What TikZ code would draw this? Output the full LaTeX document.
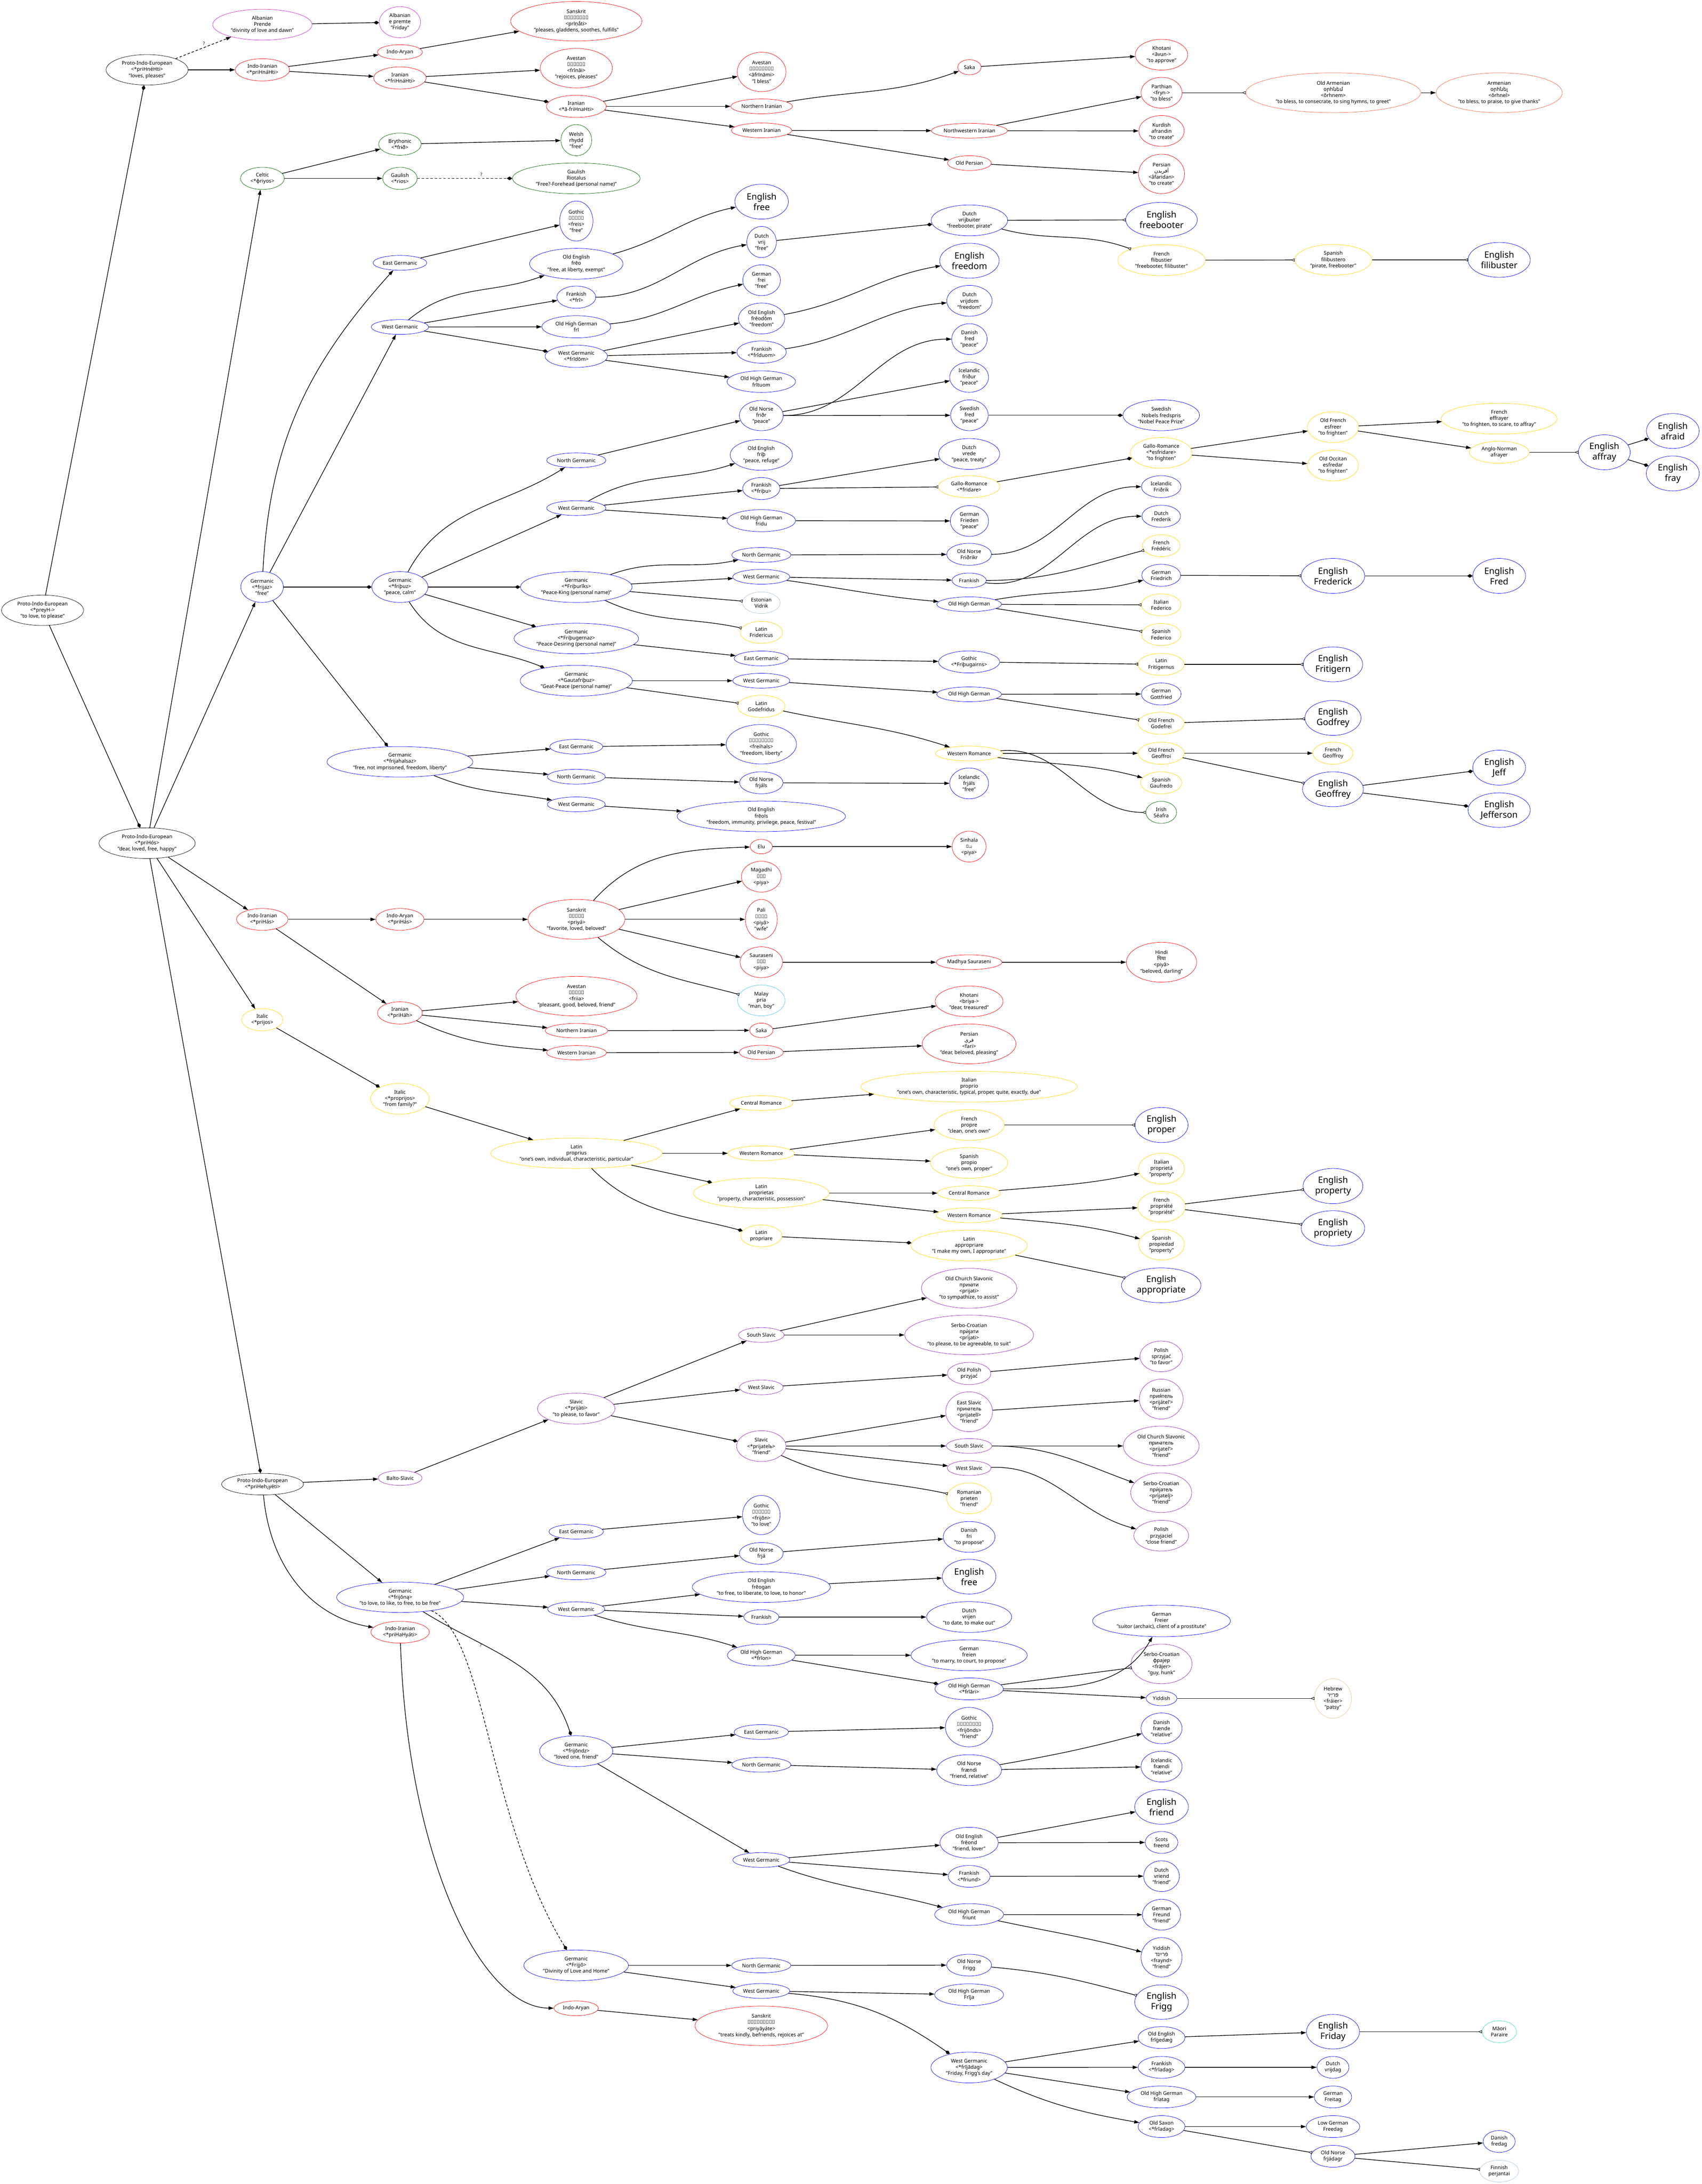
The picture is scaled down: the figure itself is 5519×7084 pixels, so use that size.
\documentclass[tikz,border=0pt]{standalone}
\usepackage{fontspec}
\setmainfont{Noto Sans}
\newfontfamily\armf{DejaVu Sans}
\newfontfamily\arabf[Script=Arabic]{DejaVu Sans}
\newfontfamily\hebf[Script=Hebrew]{Liberation Sans}
\newfontfamily\devf[Script=Devanagari]{Noto Sans}
\newfontfamily\sinf[Script=Sinhala]{Abhaya Libre}
\TeXXeTstate=1
\usetikzlibrary{shapes.geometric,arrows.meta}
\newcommand\smf{\fontsize{16.5}{20}\selectfont}
\newcommand\bgf{\fontsize{28.5}{34}\selectfont}
\newcommand\qf{\fontsize{15}{18}\selectfont}
\definecolor{cred}{RGB}{255,0,0}
\definecolor{cblue}{RGB}{0,0,255}
\definecolor{cgreen}{RGB}{0,100,0}
\definecolor{cgold}{RGB}{255,215,0}
\definecolor{calb}{RGB}{210,40,210}
\definecolor{cslav}{RGB}{150,40,200}
\definecolor{carm}{RGB}{255,99,71}
\definecolor{clsb}{RGB}{176,196,222}
\definecolor{cmalay}{RGB}{80,200,230}
\definecolor{cmaori}{RGB}{64,224,180}
\definecolor{ctan}{RGB}{230,200,150}
\begin{document}
\begin{tikzpicture}[x=1pt,y=-1pt,
  nd/.style={ellipse, draw=#1, line width=1.1pt, inner sep=0pt, align=center, font=\smf, text=black},
  nd/.default=cblue,
  sz/.style 2 args={minimum width=2*#1, minimum height=2*#2},
  bigt/.style={font=\bgf},
  qlab/.style={font=\qf, inner sep=0pt},
  inh/.style={-{Triangle[length=17pt,width=11pt]}, line width=2pt},
  der/.style={-{Diamond[length=18pt,width=12pt]}, line width=2pt},
  bor/.style={-{Triangle[open,reversed,length=12pt,width=10pt,line width=1.3pt]}, line width=2pt},
  dinh/.style={inh, dash pattern=on 8pt off 6pt},
  dder/.style={der, dash pattern=on 8pt off 6pt},
]
\fill[white] (0,0) rectangle (5519,7084);
\useasboundingbox (0,0) rectangle (5519,7084);

% ---------------- top: *priHnéHti ----------------
\node[nd=black,sz={133}{49.4}] (pie1) at (477,226.5) {Proto-Indo-European\\<*priHnéHti>\\"loves, pleases"};
\node[nd=calb,sz={161}{50}] (alb1) at (851,80) {Albanian\\Prende\\"divinity of love and dawn"};
\node[nd=calb,sz={67}{50.5}] (alb2) at (1297,72) {Albanian\\e premte\\"Friday"};
\node[nd=cred,sz={88}{36}] (iir1) at (851,226.5) {Indo-Iranian\\<*priHnáHti>};
\node[nd=cred,sz={73}{24}] (ia1) at (1297,169) {Indo-Aryan};
\node[nd=cred,sz={85}{36}] (ir1) at (1297,253) {Iranian\\<*friHnáHti>};
\node[nd=cred,sz={213}{64}] (skt1) at (1869,69) {Sanskrit\\𑀧𑁆𑀭𑀻𑀡𑀸𑀢𑀺\\<prīṇā́ti>\\"pleases, gladdens, soothes, fulfills"};
\node[nd=cred,sz={117}{64}] (ave1) at (1869,221) {Avestan\\𐬟𐬭𐬍𐬥𐬁𐬌\\<frīnāi>\\"rejoices, pleases"};
\node[nd=cred,sz={97}{36}] (ir2) at (1869,345) {Iranian\\<*ā-friHnaHti>};
\node[nd=cgreen,sz={69}{36}] (bry) at (1297,467.6) {Brythonic\\<*frɨð>};
\node[nd=cgreen,sz={50}{50.5}] (wel) at (1869,454.6) {Welsh\\rhydd\\"free"};
\node[nd=cgreen,sz={71}{36}] (cel) at (851,578.6) {Celtic\\<*ɸriyos>};
\node[nd=cgreen,sz={56}{36}] (gau1) at (1297,578.6) {Gaulish\\<*rios>};
\node[nd=cgreen,sz={207}{50}] (gau2) at (1869,578.6) {Gaulish\\Riotalus\\"Free?-Forehead (personal name)"};
\node[nd,sz={54}{65}] (got1) at (1869,717) {Gothic\\𐍆𐍂𐌴𐌹𐍃\\<freis>\\"free"};
\node[nd,sz={87}{24}] (eg1) at (1297,852.6) {East Germanic};
\node[nd,sz={151.5}{50}] (oe1) at (1869,855.6) {Old English\\frēo\\"free, at liberty, exempt"};
\node[nd,sz={63}{36}] (fk1) at (1869,964) {Frankish\\<*frī>};
\node[nd,sz={93}{24}] (wg1) at (1297,1060.7) {West Germanic};
\node[nd,sz={111.5}{36}] (ohg1) at (1869,1060) {Old High German\\frī};
\node[nd,sz={101}{36}] (wg1b) at (1869,1155.6) {West Germanic\\<*frīdōm>};

\node[nd=cred,sz={79}{64}] (ave2) at (2470,233.4) {Avestan\\𐬁𐬟𐬭𐬍𐬥𐬁𐬨𐬌\\<āfrīnāmi>\\"I bless"};
\node[nd=cred,sz={100}{24}] (nir1) at (2470,345) {Northern Iranian};
\node[nd=cred,sz={98}{24}] (wir1) at (2470,423) {Western Iranian};
\node[nd=cred,sz={38}{24.5}] (saka1) at (3144,218) {Saka};
\node[nd=cred,sz={123}{24}] (nwir) at (3144,424) {Northwestern Iranian};
\node[nd=cred,sz={71}{24}] (op1) at (3144,529) {Old Persian};
\node[nd=cred,sz={85}{50}] (kho1) at (3767,177.5) {Khotani\\<āvun->\\"to approve"};
\node[nd=cred,sz={66.6}{50}] (par) at (3767,300.8) {Parthian\\<fryn->\\"to bless"};
\node[nd=cred,sz={73.5}{50}] (kur) at (3767,424.7) {Kurdish\\afrandin\\"to create"};
\node[nd=cred,sz={74.6}{64}] (per1) at (3767,564) {Persian\\{\arabf\beginR آفریدن\endR}\\<âfaridan>\\"to create"};
\node[nd=carm,sz={283.6}{64.7}] (oarm) at (4324,300.8) {Old Armenian\\{\armf օրհնեմ}\\<ōrhnem>\\"to bless, to consecrate, to sing hymns, to greet"};
\node[nd=carm,sz={204.7}{64.7}] (arm) at (4862,300.8) {Armenian\\{\armf օրհնել}\\<ōrhnel>\\"to bless, to praise, to give thanks"};

\node[nd,bigt,sz={86.7}{56.6}] (enfree1) at (2470,654) {English\\free};
\node[nd,sz={48}{50.5}] (duvrij) at (2470,785) {Dutch\\vrij\\"free"};
\node[nd,sz={61}{50}] (defrei) at (2470,909) {German\\frei\\"free"};
\node[nd,sz={75}{50}] (oefd) at (2470,1033) {Old English\\frēodōm\\"freedom"};
\node[nd,sz={80}{36}] (fkfd) at (2470,1142) {Frankish\\<*frīduom>};
\node[nd,sz={111}{35}] (ohgft) at (2469,1237.8) {Old High German\\frītuom};
\node[nd,sz={124}{50}] (duvb) at (3144,714.8) {Dutch\\vrijbuiter\\"freebooter, pirate"};
\node[nd,bigt,sz={96.4}{56.6}] (enfreedom) at (3144,845.6) {English\\freedom};
\node[nd,sz={73.5}{50}] (duvd) at (3144,975.7) {Dutch\\vrijdom\\"freedom"};
\node[nd,sz={57.4}{50}] (dafred) at (3144,1100) {Danish\\fred\\"peace"};
\node[nd,bigt,sz={116}{56.6}] (enfb) at (3767,713) {English\\freebooter};
\node[nd=cgold,sz={142}{50}] (frfl) at (3767,844) {French\\flibustier\\"freebooter, filibuster"};
\node[nd=cgold,sz={125}{50}] (esfl) at (4324,843) {Spanish\\filibustero\\"pirate, freebooter"};
\node[nd,bigt,sz={101}{56.6}] (enfl) at (4862,843) {English\\filibuster};

% ---------------- Germanic *frijaz ----------------
\node[nd,sz={71}{49}] (onfr) at (2469,1348) {Old Norse\\friðr\\"peace"};
\node[nd,sz={96}{24}] (ng1) at (1869,1493) {North Germanic};
\node[nd,sz={101}{50}] (oefr) at (2469,1475.5) {Old English\\friþ\\"peace, refuge"};
\node[nd,sz={60.5}{35.7}] (fkfr) at (2469,1584.7) {Frankish\\<*friþu>};
\node[nd,sz={96}{24}] (wg2) at (1869,1648) {West Germanic};
\node[nd,sz={111}{35.7}] (ohgfr) at (2469,1688.8) {Old High German\\fridu};
\node[nd,sz={69}{50}] (gfrijaz) at (850,1904) {Germanic\\<*frijaz>\\"free"};
\node[nd,sz={91}{50}] (gfrithuz) at (1297,1904) {Germanic\\<*friþuz>\\"peace, calm"};
\node[nd,sz={181}{50}] (gfrk) at (1869,1904) {Germanic\\<*Friþurīks>\\"Peace-King (personal name)"};
\node[nd,sz={96}{24}] (ng2) at (2469,1800) {North Germanic};
\node[nd,sz={92.6}{24}] (wg3) at (2469,1871) {West Germanic};
\node[nd=clsb,sz={61}{35}] (est) at (2469,1955) {Estonian\\Vidrik};
\node[nd=cgold,sz={69}{35.7}] (latfrid) at (2469,2051) {Latin\\Fridericus};
\node[nd,sz={202}{49.5}] (gfrg) at (1869,2071) {Germanic\\<*Friþugernaz>\\"Peace-Desiring (personal name)"};
\node[nd,sz={88}{24}] (eg2) at (2469,2135.7) {East Germanic};
\node[nd,sz={182}{50}] (ggaut) at (1869,2208) {Germanic\\<*Gautafriþuz>\\"Geat-Peace (personal name)"};
\node[nd,sz={92.6}{24}] (wg4) at (2469,2208) {West Germanic};
\node[nd=cgold,sz={77}{36}] (latgod) at (2469,2291) {Latin\\Godefridus};
\node[nd,sz={236.5}{49.5}] (gfh) at (1297,2471) {Germanic\\<*frijahalsaz>\\"free, not imprisoned, freedom, liberty"};
\node[nd,sz={86}{24}] (eg3) at (1869,2422) {East Germanic};
\node[nd,sz={114}{64}] (gotfh) at (2469,2414) {Gothic\\𐍆𐍂𐌴𐌹𐌷𐌰𐌻𐍃\\<freihals>\\"freedom, liberty"};
\node[nd,sz={94}{24}] (ng3) at (1869,2519.4) {North Germanic};
\node[nd,sz={70.4}{35.7}] (onfj) at (2469,2539) {Old Norse\\frjáls};
\node[nd,sz={94}{24}] (wg5) at (1869,2609) {West Germanic};
\node[nd,sz={273}{49.5}] (oefl) at (2469,2648) {Old English\\frēols\\"freedom, immunity, privilege, peace, festival"};

\node[nd,sz={63}{49}] (isfr) at (3143,1223.5) {Icelandic\\friður\\"peace"};
\node[nd,sz={61}{50}] (svfr) at (3144,1347) {Swedish\\fred\\"peace"};
\node[nd,sz={99}{50}] (duvr) at (3143,1472.5) {Dutch\\vrede\\"peace, treaty"};
\node[nd=cgold,sz={100}{35.7}] (gr1) at (3143,1578.6) {Gallo-Romance\\<*fridare>};
\node[nd,sz={62}{50}] (defr) at (3144,1689.8) {German\\Frieden\\"peace"};
\node[nd,sz={72.5}{35.7}] (onfrk) at (3143,1798) {Old Norse\\Friðrikr};
\node[nd,sz={55.5}{24}] (fk3) at (3143,1882.7) {Frankish};
\node[nd,sz={105}{24}] (ohg3) at (3143,1960) {Old High German};
\node[nd,sz={99}{35.7}] (gotfg) at (3143,2147) {Gothic\\<*Friþugairns>};
\node[nd,sz={105}{24}] (ohg4) at (3143,2252) {Old High German};
\node[nd=cgold,sz={109}{24}] (wr3) at (3143,2444) {Western Romance};
\node[nd,sz={63}{50}] (isfj) at (3143,2541) {Icelandic\\frjáls\\"free"};

\node[nd,sz={124}{50}] (svnob) at (3766,1347) {Swedish\\Nobels fredspris\\"Nobel Peace Prize"};
\node[nd=cgold,sz={100}{50}] (gr2) at (3766,1469) {Gallo-Romance\\<*esfridare>\\"to frighten"};
\node[nd,sz={64}{35.7}] (isfrk) at (3766,1578.6) {Icelandic\\Friðrik};
\node[nd,sz={62.5}{35.7}] (dufrk) at (3766,1674.5) {Dutch\\Frederik};
\node[nd=cgold,sz={61}{35.7}] (frfrd) at (3766,1770) {French\\Frédéric};
\node[nd,sz={63}{35.7}] (defrd) at (3766,1866) {German\\Friedrich};
\node[nd=cgold,sz={64}{35.7}] (itfed) at (3766,1962) {Italian\\Federico};
\node[nd=cgold,sz={64}{35.7}] (esfed) at (3766,2058) {Spanish\\Federico};
\node[nd=cgold,sz={75}{35.7}] (latfrit) at (3766,2155) {Latin\\Fritigernus};
\node[nd,sz={64.5}{35.7}] (degott) at (3766,2251) {German\\Gottfried};
\node[nd=cgold,sz={75}{35.7}] (ofgod) at (3766,2346) {Old French\\Godefrei};
\node[nd=cgold,sz={75}{35.7}] (ofgeo) at (3766,2443) {Old French\\Geoffroi};
\node[nd=cgold,sz={67}{35.7}] (esgau) at (3766,2539) {Spanish\\Gaufredo};
\node[nd=cgreen,sz={50}{35.7}] (irsea) at (3766,2635) {Irish\\Séafra};

\node[nd=cgold,sz={83}{50}] (ofesf) at (4323,1385.7) {Old French\\esfreer\\"to frighten"};
\node[nd=cgold,sz={83}{50}] (ococ) at (4323,1510) {Old Occitan\\esfredar\\"to frighten"};
\node[nd,bigt,sz={103}{56.6}] (enfrk) at (4323,1868) {English\\Frederick};
\node[nd,bigt,sz={96.4}{56.6}] (enfrit) at (4323,2155) {English\\Fritigern};
\node[nd,bigt,sz={91}{56.6}] (engod) at (4323,2328.6) {English\\Godfrey};
\node[nd=cgold,sz={65}{35.7}] (frgeo) at (4323,2443) {French\\Geoffroy};
\node[nd,bigt,sz={98.7}{56.6}] (engeo) at (4323,2560) {English\\Geoffrey};

\node[nd=cgold,sz={188}{50}] (freff) at (4862,1358) {French\\effrayer\\"to frighten, to scare, to affray"};
\node[nd=cgold,sz={97}{35.7}] (anaf) at (4862,1467) {Anglo-Norman\\afrayer};
\node[nd,bigt,sz={85.6}{56.6}] (enfred) at (4862,1868) {English\\Fred};
\node[nd,bigt,sz={85.6}{56.6}] (enjeff) at (4862,2490) {English\\Jeff};
\node[nd,bigt,sz={101}{56}] (enjeffer) at (4862,2627.6) {English\\Jefferson};
\node[nd,bigt,sz={84}{56.6}] (enaffray) at (5203,1467) {English\\affray};
\node[nd,bigt,sz={85.6}{56.6}] (enafraid) at (5425,1398) {English\\afraid};
\node[nd,bigt,sz={86}{56.6}] (enfray) at (5425,1535.7) {English\\fray};

% ---------------- PIE roots ----------------
\node[nd=black,sz={133}{49.4}] (pie2) at (138,1979.5) {Proto-Indo-European\\<*preyH->\\"to love, to please"};
\node[nd=black,sz={156}{49.7}] (pie3) at (477,2735) {Proto-Indo-European\\<*priHós>\\"dear, loved, free, happy"};

% ---------------- Indo-Iranian *priHás ----------------
\node[nd=cred,sz={83.5}{35.4}] (iir2) at (850.5,2982) {Indo-Iranian\\<*priHás>};
\node[nd=cred,sz={78}{35.4}] (ia2) at (1297,2982) {Indo-Aryan\\<*priHás>};
\node[nd=cred,sz={157}{64.6}] (skt2) at (1869.6,2982) {Sanskrit\\𑀧𑁆𑀭𑀺𑀬\\<priyá>\\"favorite, loved, beloved"};
\node[nd=cred,sz={36}{23.4}] (elu) at (2469,2746) {Elu};
\node[nd=cred,sz={64.4}{50}] (mag) at (2469,2843.5) {Magadhi\\𑀧𑀺𑀬\\<piya>};
\node[nd=cred,sz={51.7}{64.6}] (pali) at (2469,2982) {Pali\\𑀧𑀺𑀬𑀸\\<piyā>\\"wife"};
\node[nd=cred,sz={69}{50}] (saur) at (2469,3121) {Sauraseni\\𑀧𑀺𑀬\\<piya>};
\node[nd=cmalay,sz={77}{50}] (malay) at (2469,3245) {Malay\\pria\\"man, boy"};
\node[nd=cred,sz={55}{50}] (sinh) at (3143,2746) {Sinhala\\{\sinf පිය}\\<piya>};
\node[nd=cred,sz={106.5}{24}] (msaur) at (3143,3121) {Madhya Sauraseni};
\node[nd=cred,sz={114}{64.6}] (hindi) at (3767,3121) {Hindi\\{\devf पिया}\\<piyā>\\"beloved, darling"};
\node[nd=cgold,sz={67}{36}] (ital1) at (850.5,3307.5) {Italic\\<*prijos>};
\node[nd=cred,sz={72.7}{36}] (ir3) at (1297,3285.5) {Iranian\\<*priHáh>};
\node[nd=cred,sz={196.4}{64}] (ave3) at (1869.6,3231) {Avestan\\𐬟𐬭𐬌𐬌𐬀\\<friia>\\"pleasant, good, beloved, friend"};
\node[nd=cred,sz={101.4}{23.4}] (nir2) at (1869.6,3343) {Northern Iranian};
\node[nd=cred,sz={97}{23.4}] (wir2) at (1869.6,3414.6) {Western Iranian};
\node[nd=cred,sz={37.6}{23.4}] (saka2) at (2469,3342) {Saka};
\node[nd=cred,sz={71.4}{23.4}] (op2) at (2469,3413.6) {Old Persian};
\node[nd=cred,sz={110}{50}] (kho2) at (3143,3248) {Khotani\\<briya->\\"dear, treasured"};
\node[nd=cred,sz={152}{64.6}] (per2) at (3143,3386) {Persian\\{\arabf\beginR فری\endR}\\<fari>\\"dear, beloved, pleasing"};

% ---------------- Italic ----------------
\node[nd=cgold,sz={95}{50}] (ital2) at (1297,3564) {Italic\\<*proprijos>\\"from family?"};
\node[nd=cgold,sz={278}{49.3}] (latprop) at (1869.6,3740.8) {Latin\\proprius\\"one's own, individual, characteristic, particular"};
\node[nd=cgold,sz={102.7}{24}] (cr1) at (2469,3578) {Central Romance};
\node[nd=cgold,sz={107.8}{24}] (wr1) at (2469,3740.8) {Western Romance};
\node[nd=cgold,sz={220}{49.3}] (latpriet) at (2469,3870) {Latin\\proprietas\\"property, characteristic, possession"};
\node[nd=cgold,sz={67}{35.4}] (latpriare) at (2469,4008.6) {Latin\\propriare};
\node[nd=cgold,sz={351}{50}] (itprop) at (3143,3524.6) {Italian\\proprio\\"one's own, characteristic, typical, proper, quite, exactly, due"};
\node[nd=cgold,sz={114}{50}] (frprop) at (3143,3649) {French\\propre\\"clean, one's own"};
\node[nd=cgold,sz={125}{50}] (esprop) at (3143,3772) {Spanish\\propio\\"one's own, proper"};
\node[nd=cgold,sz={102}{24}] (cr2) at (3143,3870) {Central Romance};
\node[nd=cgold,sz={108}{24}] (wr2) at (3143,3941.7) {Western Romance};
\node[nd=cgold,sz={189}{50}] (latapp) at (3143,4040) {Latin\\appropriare\\"I make my own, I appropriate"};
\node[nd,bigt,sz={86}{57}] (enproper) at (3767,3649) {English\\proper};
\node[nd=cgold,sz={74}{50}] (itpriet) at (3767,3790.6) {Italian\\proprietà\\"property"};
\node[nd=cgold,sz={77}{50}] (frpriet) at (3767,3914) {French\\propriété\\"propriété"};
\node[nd=cgold,sz={74}{50}] (espriet) at (3767,4037) {Spanish\\propiedad\\"property"};
\node[nd,bigt,sz={97}{57}] (enproperty) at (4323,3847) {English\\property};
\node[nd,bigt,sz={103}{57}] (enpropriety) at (4323,3984) {English\\propriety};
\node[nd,bigt,sz={129}{56.4}] (enapprop) at (3766,4169) {English\\appropriate};

% ---------------- Slavic ----------------
\node[nd=black,sz={132.6}{35}] (pie4) at (851.5,4814) {Proto-Indo-European\\<*priHeh₂yéti>};
\node[nd=cslav,sz={71}{24}] (bsl) at (1297.7,4794) {Balto-Slavic};
\node[nd=cslav,sz={125.6}{50}] (sl1) at (1868.7,4569) {Slavic\\<*prijàti>\\"to please, to favor"};
\node[nd=cslav,sz={74}{24}] (ss1) at (2469,4330) {South Slavic};
\node[nd=cslav,sz={71}{24}] (ws1) at (2469,4500) {West Slavic};
\node[nd=cslav,sz={80}{50}] (sl2) at (2469,4690.5) {Slavic\\<*prijatelь>\\"friend"};
\node[nd=cslav,sz={154.7}{64.7}] (ocs1) at (3143,4178.6) {Old Church Slavonic\\приꙗти\\<prijati>\\"to sympathize, to assist"};
\node[nd=cslav,sz={209}{64.3}] (sc1) at (3143,4330) {Serbo-Croatian\\прѝјати\\<prìjati>\\"to please, to be agreeable, to suit"};
\node[nd=cslav,sz={70.4}{36}] (opl) at (3143,4455) {Old Polish\\przyjać};
\node[nd=cslav,sz={76}{64.7}] (esl) at (3143,4579) {East Slavic\\приꙗтель\\<prijatelĭ>\\"friend"};
\node[nd=cslav,sz={74}{24}] (ss2) at (3143,4690) {South Slavic};
\node[nd=cslav,sz={71}{24}] (ws2) at (3143,4762) {West Slavic};
\node[nd=cgold,sz={72.6}{50}] (rom) at (3143,4860) {Romanian\\prieten\\"friend"};
\node[nd=cslav,sz={69}{50}] (plspr) at (3766,4399.6) {Polish\\sprzyjać\\"to favor"};
\node[nd=cslav,sz={71}{64.7}] (ru) at (3766,4538) {Russian\\прия́тель\\<prijátelʹ>\\"friend"};
\node[nd=cslav,sz={123}{64.3}] (ocs2) at (3766,4690) {Old Church Slavonic\\приꙗтель\\<prijatelʹ>\\"friend"};
\node[nd=cslav,sz={99}{64.3}] (sc2) at (3766,4841.6) {Serbo-Croatian\\прѝјатељ\\<prìjatelj>\\"friend"};
\node[nd=cslav,sz={88.7}{50}] (plprz) at (3766,4981) {Polish\\przyjaciel\\"close friend"};

% ---------------- Germanic *frijona ----------------
\node[nd,sz={206}{49.3}] (gfrijona) at (1297.7,5181) {Germanic\\<*frijōną>\\"to love, to like, to free, to be free"};
\node[nd=cred,sz={94.7}{35.4}] (iir3) at (1297.7,5294) {Indo-Iranian\\<*priHaHyáti>};
\node[nd,sz={88.4}{24}] (eg4) at (1868.7,4968) {East Germanic};
\node[nd,sz={96.8}{24}] (ng4) at (1868.7,5100) {North Germanic};
\node[nd,sz={92.6}{24}] (wg4b) at (1868.7,5219.5) {West Germanic};
\node[nd,sz={61}{63.6}] (gotfjn) at (2469,4914) {Gothic\\𐍆𐍂𐌹𐌾𐍉𐌽\\<frijōn>\\"to love"};
\node[nd,sz={71}{35.4}] (onfja) at (2469,5038.7) {Old Norse\\frjá};
\node[nd,sz={223.8}{50}] (oefg) at (2469,5147.7) {Old English\\frēogan\\"to free, to liberate, to love, to honor"};
\node[nd,sz={57}{24}] (fk4) at (2469,5245) {Frankish};
\node[nd,sz={110}{35}] (ohgfrion) at (2469,5368.7) {Old High German\\<*frīon>};
\node[nd,sz={84}{50}] (dafri) at (3143,4985) {Danish\\fri\\"to propose"};
\node[nd,bigt,sz={87}{56.4}] (enfree2) at (3143,5114) {English\\free};
\node[nd,sz={138}{50}] (duvrijen) at (3143,5245) {Dutch\\vrijen\\"to date, to make out"};
\node[nd,sz={188.5}{50}] (defreien) at (3143,5369) {German\\freien\\"to marry, to court, to propose"};
\node[nd,sz={110.7}{35.6}] (ohgfriari) at (3143,5478) {Old High German\\<*frīāri>};
\node[nd,sz={223.7}{51}] (defreier) at (3767,5257.7) {German\\Freier\\"suitor (archaic), client of a prostitute"};
\node[nd=cslav,sz={99}{64.3}] (scfr) at (3767,5397) {Serbo-Croatian\\фрајер\\<frājer>\\"guy, hunk"};
\node[nd,sz={50}{23.6}] (yi1) at (3767,5509) {Yiddish};
\node[nd=ctan,sz={60}{64}] (heb) at (4323,5509) {Hebrew\\{\hebf\beginR פְרַײֵר\endR}\\<fráier>\\"patsy"};

% ---------------- Germanic *frijondz ----------------
\node[nd,sz={118.6}{50}] (gfrijondz) at (1868.6,5680) {Germanic\\<*frijōndz>\\"loved one, friend"};
\node[nd,sz={88}{24}] (eg5) at (2469,5618) {East Germanic};
\node[nd,sz={77}{64}] (gotfjnds) at (3143,5602) {Gothic\\𐍆𐍂𐌹𐌾𐍉𐌽𐌳𐍃\\<frijōnds>\\"friend"};
\node[nd,sz={96}{24}] (ng5) at (2469,5724) {North Germanic};
\node[nd,sz={105}{50}] (onfrn) at (3143,5741.4) {Old Norse\\frændi\\"friend, relative"};
\node[nd,sz={92.5}{24}] (wg6) at (2469,6033) {West Germanic};
\node[nd,sz={94.4}{50}] (oefrd) at (3143,5977) {Old English\\frēond\\"friend, lover"};
\node[nd,sz={68}{35.4}] (fkfrd) at (3143,6086) {Frankish\\<*friund>};
\node[nd,sz={111.6}{35.4}] (ohgfrd) at (3143,6210) {Old High German\\friunt};
\node[nd,sz={66.6}{50}] (dafrn) at (3767,5606) {Danish\\frænde\\"relative"};
\node[nd,sz={66.6}{50}] (isfrn) at (3767,5730) {Icelandic\\frændi\\"relative"};
\node[nd,bigt,sz={87}{56}] (enfriend) at (3767,5861) {English\\friend};
\node[nd,sz={53}{35.5}] (scots) at (3767,5976) {Scots\\freend};
\node[nd,sz={58}{50}] (duvriend) at (3767,6085.5) {Dutch\\vriend\\"friend"};
\node[nd,sz={61.8}{50}] (defreund) at (3767,6210.5) {German\\Freund\\"friend"};
\node[nd,sz={66.6}{64}] (yifr) at (3767,6348.6) {Yiddish\\{\hebf\beginR פֿרײַנד\endR}\\<fraynd>\\"friend"};

% ---------------- Germanic *Frijjo ----------------
\node[nd,sz={169.6}{50}] (gfrijjo) at (1868.6,6375) {Germanic\\<*Frijjō>\\"Divinity of Love and Home"};
\node[nd,sz={96}{24}] (ng6) at (2469,6375) {North Germanic};
\node[nd,sz={92.5}{24}] (wg7) at (2469,6457.7) {West Germanic};
\node[nd,sz={72.7}{35.4}] (onfrigg) at (3143,6374) {Old Norse\\Frigg};
\node[nd,sz={111.6}{35.4}] (ohgfrija) at (3143,6470) {Old High German\\Frīja};
\node[nd=cred,sz={72}{24}] (ia3) at (1868.6,6514) {Indo-Aryan};
\node[nd=cred,sz={215}{64}] (skt3) at (2469,6571) {Sanskrit\\𑀧𑁆𑀭𑀺𑀬𑀸𑀬𑀢𑁂\\<priyāyáte>\\"treats kindly, befriends, rejoices at"};
\node[nd,sz={124}{50}] (wgfd) at (3143,6706) {West Germanic\\<*frījādag>\\"Friday, Frigg's day"};
\node[nd,bigt,sz={87}{56}] (enfrigg) at (3767,6494) {English\\Frigg};
\node[nd,sz={76}{35.5}] (oefd2) at (3767,6609) {Old English\\frīġedæġ};
\node[nd,sz={76}{35.5}] (fkfd2) at (3767,6705.5) {Frankish\\<*frīadag>};
\node[nd,sz={111.5}{35.5}] (ohgfd) at (3767,6801.6) {Old High German\\frīatag};
\node[nd,sz={76}{35.5}] (osfd) at (3767,6897.7) {Old Saxon\\<*frīadag>};
\node[nd,bigt,sz={86}{56}] (enfriday) at (4323,6590) {English\\Friday};
\node[nd,sz={52}{35.5}] (duvrijdag) at (4323,6705.5) {Dutch\\vrijdag};
\node[nd,sz={60.6}{35.5}] (defreitag) at (4323,6801.6) {German\\Freitag};
\node[nd,sz={86.6}{35.5}] (lgfd) at (4323,6897.7) {Low German\\Freedag};
\node[nd,sz={71.5}{35.5}] (onfd) at (4323,6994) {Old Norse\\frjádagr};
\node[nd=cmaori,sz={55.7}{35.5}] (maori) at (4862.5,6590) {Māori\\Paraire};
\node[nd,sz={52}{35.5}] (dafd) at (4862,6946) {Danish\\fredag};
\node[nd=clsb,sz={63}{35.5}] (fin) at (4862,7042) {Finnish\\perjantai};

% question marks
\node[qlab] (q1) at (661,142) {?};
\node[qlab] (q2) at (1561,566) {?};
\node[qlab] (q3) at (1559,5336) {?};

% ================= EDGES =================
\draw[dinh] (pie1) -- (alb1);
\draw[der] (alb1) -- (alb2);
\draw[inh] (pie1) -- (iir1);
\draw[inh] (iir1) -- (ia1);
\draw[inh] (iir1) -- (ir1);
\draw[inh] (ia1) -- (skt1);
\draw[inh] (ir1) -- (ave1);
\draw[der] (ir1) -- (ir2);
\draw[inh] (ir2) -- (ave2);
\draw[inh] (ir2) -- (nir1);
\draw[inh] (ir2) -- (wir1);
\draw[inh] (nir1) to[out=10,in=200] (saka1);
\draw[inh] (saka1) -- (kho1);
\draw[inh] (wir1) -- (nwir);
\draw[inh] (wir1) -- (op1);
\draw[inh] (nwir) -- (par);
\draw[inh] (nwir) -- (kur);
\draw[inh] (op1) -- (per1);
\draw[bor] (par) -- (oarm);
\draw[inh] (oarm) -- (arm);
\draw[inh] (cel) -- (bry);
\draw[inh] (bry) -- (wel);
\draw[inh] (cel) -- (gau1);
\draw[dder] (gau1) -- (gau2);
\draw[inh] (eg1) -- (got1);
\draw[inh] (wg1) to[out=40,in=200] (oe1);
\draw[inh] (wg1) -- (fk1);
\draw[inh] (wg1) -- (ohg1);
\draw[der] (wg1) -- (wg1b);
\draw[inh] (oe1) to[out=15,in=192] (enfree1);
\draw[inh] (fk1) to[out=0,in=190] (duvrij);
\draw[inh] (ohg1) to[out=5,in=192] (defrei);
\draw[inh] (wg1b) -- (oefd);
\draw[inh] (wg1b) -- (fkfd);
\draw[inh] (wg1b) -- (ohgft);
\draw[inh] (oefd) to[out=10,in=190] (enfreedom);
\draw[inh] (fkfd) to[out=8,in=185] (duvd);
\draw[der] (duvrij) -- (duvb);
\draw[bor] (duvb) -- (enfb);
\draw[bor] (duvb) to[out=-15,in=160] (frfl);
\draw[bor] (frfl) -- (esfl);
\draw[bor] (esfl) -- (enfl);

\draw[der] (pie2) -- (pie1);
\draw[der] (pie2) -- (pie3);
\draw[inh] (pie3) -- (cel);
\draw[inh] (pie3) -- (gfrijaz);
\draw[inh] (pie3) -- (iir2);
\draw[inh] (pie3) -- (ital1);
\draw[der] (pie3) -- (pie4);

\draw[inh] (gfrijaz) to[out=87,in=228] (eg1);
\draw[inh] (gfrijaz) -- (wg1);
\draw[der] (gfrijaz) -- (gfrithuz);
\draw[der] (gfrijaz) -- (gfh);
\draw[inh] (gfrithuz) to[out=62,in=212] (ng1);
\draw[inh] (gfrithuz) -- (wg2);
\draw[der] (gfrithuz) -- (gfrk);
\draw[der] (gfrithuz) -- (gfrg);
\draw[der] (gfrithuz) to[out=-58,in=158] (ggaut);
\draw[inh] (ng1) -- (onfr);
\draw[inh] (onfr) to[out=0,in=180] (dafred);
\draw[inh] (onfr) -- (isfr);
\draw[inh] (onfr) -- (svfr);
\draw[inh] (wg2) to[out=30,in=198] (oefr);
\draw[inh] (wg2) -- (fkfr);
\draw[inh] (wg2) -- (ohgfr);
\draw[inh] (fkfr) -- (duvr);
\draw[bor] (fkfr) -- (gr1);
\draw[inh] (ohgfr) -- (defr);
\draw[der] (svfr) -- (svnob);
\draw[der] (gr1) -- (gr2);
\draw[inh] (gr2) -- (ofesf);
\draw[inh] (gr2) -- (ococ);
\draw[inh] (ofesf) -- (freff);
\draw[inh] (ofesf) -- (anaf);
\draw[bor] (anaf) -- (enaffray);
\draw[der] (enaffray) -- (enafraid);
\draw[der] (enaffray) -- (enfray);
\draw[inh] (gfrk) to[out=20,in=192] (ng2);
\draw[inh] (gfrk) -- (wg3);
\draw[bor] (gfrk) -- (est);
\draw[bor] (gfrk) to[out=-25,in=168] (latfrid);
\draw[inh] (ng2) -- (onfrk);
\draw[inh] (wg3) -- (fk3);
\draw[inh] (wg3) to[out=-8,in=175] (ohg3);
\draw[inh] (onfrk) to[out=0,in=180] (isfrk);
\draw[inh] (fk3) to[out=-8,in=180] (dufrk);
\draw[bor] (fk3) to[out=0,in=195] (frfrd);
\draw[inh] (ohg3) to[out=10,in=195] (defrd);
\draw[bor] (ohg3) -- (itfed);
\draw[bor] (ohg3) -- (esfed);
\draw[bor] (defrd) -- (enfrk);
\draw[der] (enfrk) -- (enfred);
\draw[inh] (gfrg) -- (eg2);
\draw[inh] (eg2) -- (gotfg);
\draw[bor] (gotfg) -- (latfrit);
\draw[bor] (latfrit) -- (enfrit);
\draw[inh] (ggaut) -- (wg4);
\draw[bor] (ggaut) -- (latgod);
\draw[inh] (wg4) -- (ohg4);
\draw[inh] (ohg4) -- (degott);
\draw[bor] (ohg4) -- (ofgod);
\draw[bor] (ofgod) -- (engod);
\draw[inh] (latgod) to[out=-12,in=162] (wr3);
\draw[inh] (wr3) -- (ofgeo);
\draw[inh] (wr3) to[out=-8,in=165] (esgau);
\draw[bor] (wr3) to[out=5,in=180] (irsea);
\draw[inh] (ofgeo) -- (frgeo);
\draw[bor] (ofgeo) -- (engeo);
\draw[der] (engeo) -- (enjeff);
\draw[der] (engeo) -- (enjeffer);
\draw[inh] (gfh) -- (eg3);
\draw[inh] (gfh) -- (ng3);
\draw[inh] (gfh) to[out=-22,in=170] (wg5);
\draw[inh] (eg3) -- (gotfh);
\draw[inh] (ng3) -- (onfj);
\draw[inh] (onfj) -- (isfj);
\draw[inh] (wg5) -- (oefl);

% Indo-Iranian / Italic
\draw[inh] (iir2) -- (ia2);
\draw[inh] (ia2) -- (skt2);
\draw[inh] (skt2) to[out=48,in=182] (elu);
\draw[inh] (skt2) -- (mag);
\draw[inh] (skt2) -- (pali);
\draw[inh] (skt2) -- (saur);
\draw[bor] (skt2) to[out=-40,in=165] (malay);
\draw[inh] (elu) -- (sinh);
\draw[inh] (saur) -- (msaur);
\draw[inh] (msaur) -- (hindi);
\draw[inh] (iir2) -- (ir3);
\draw[inh] (ir3) -- (ave3);
\draw[inh] (ir3) -- (nir2);
\draw[inh] (ir3) to[out=-25,in=175] (wir2);
\draw[inh] (nir2) -- (saka2);
\draw[inh] (saka2) -- (kho2);
\draw[inh] (wir2) -- (op2);
\draw[inh] (op2) -- (per2);
\draw[der] (ital1) -- (ital2);
\draw[inh] (ital2) -- (latprop);
\draw[inh] (latprop) -- (cr1);
\draw[inh] (latprop) -- (wr1);
\draw[der] (latprop) -- (latpriet);
\draw[der] (latprop) to[out=-45,in=165] (latpriare);
\draw[inh] (cr1) -- (itprop);
\draw[inh] (wr1) -- (frprop);
\draw[inh] (wr1) -- (esprop);
\draw[bor] (frprop) -- (enproper);
\draw[inh] (latpriet) -- (cr2);
\draw[inh] (latpriet) -- (wr2);
\draw[inh] (cr2) to[out=5,in=192] (itpriet);
\draw[inh] (wr2) -- (frpriet);
\draw[inh] (wr2) to[out=-5,in=165] (espriet);
\draw[bor] (frpriet) -- (enproperty);
\draw[bor] (frpriet) -- (enpropriety);
\draw[der] (latpriare) -- (latapp);
\draw[bor] (latapp) -- (enapprop);

% Slavic
\draw[inh] (pie4) -- (bsl);
\draw[inh] (bsl) -- (sl1);
\draw[inh] (sl1) -- (ss1);
\draw[inh] (sl1) -- (ws1);
\draw[der] (sl1) -- (sl2);
\draw[inh] (ss1) -- (ocs1);
\draw[inh] (ss1) -- (sc1);
\draw[inh] (ws1) -- (opl);
\draw[inh] (opl) -- (plspr);
\draw[inh] (sl2) -- (esl);
\draw[inh] (sl2) -- (ss2);
\draw[inh] (sl2) -- (ws2);
\draw[bor] (sl2) to[out=-25,in=168] (rom);
\draw[inh] (esl) -- (ru);
\draw[inh] (ss2) -- (ocs2);
\draw[inh] (ss2) to[out=0,in=160] (sc2);
\draw[inh] (ws2) to[out=2,in=165] (plprz);

% Germanic *frijona
\draw[inh] (pie4) -- (gfrijona);
\draw[inh] (pie4) to[out=-85,in=170] (iir3);
\draw[inh] (gfrijona) -- (eg4);
\draw[inh] (gfrijona) -- (ng4);
\draw[inh] (gfrijona) -- (wg4b);
\draw[inh] (eg4) -- (gotfjn);
\draw[inh] (ng4) -- (onfja);
\draw[inh] (onfja) -- (dafri);
\draw[inh] (wg4b) -- (oefg);
\draw[inh] (wg4b) -- (fk4);
\draw[inh] (wg4b) to[out=-18,in=162] (ohgfrion);
\draw[inh] (oefg) -- (enfree2);
\draw[inh] (fk4) -- (duvrijen);
\draw[inh] (ohgfrion) -- (defreien);
\draw[der] (ohgfrion) -- (ohgfriari);
\draw[inh] (ohgfriari) to[out=0,in=240] (defreier);
\draw[bor] (ohgfriari) -- (scfr);
\draw[inh] (ohgfriari) -- (yi1);
\draw[bor] (yi1) -- (heb);
\draw[der] (gfrijona) to[out=-32,in=108] (gfrijondz);
\draw[dder] (gfrijona) .. controls (1575,5300) and (1580,5900) .. (gfrijjo);
\draw[inh] (gfrijondz) -- (eg5);
\draw[inh] (gfrijondz) -- (ng5);
\draw[inh] (gfrijondz) -- (wg6);
\draw[inh] (eg5) -- (gotfjnds);
\draw[inh] (ng5) -- (onfrn);
\draw[inh] (onfrn) to[out=10,in=195] (dafrn);
\draw[inh] (onfrn) -- (isfrn);
\draw[inh] (wg6) -- (oefrd);
\draw[inh] (wg6) -- (fkfrd);
\draw[inh] (wg6) to[out=-20,in=165] (ohgfrd);
\draw[inh] (oefrd) -- (enfriend);
\draw[inh] (oefrd) -- (scots);
\draw[inh] (fkfrd) -- (duvriend);
\draw[inh] (ohgfrd) -- (defreund);
\draw[inh] (ohgfrd) to[out=-12,in=165] (yifr);
\draw[inh] (gfrijjo) -- (ng6);
\draw[inh] (gfrijjo) -- (wg7);
\draw[inh] (ng6) -- (onfrigg);
\draw[bor] (onfrigg) to[out=-5,in=165] (enfrigg);
\draw[inh] (wg7) -- (ohgfrija);
\draw[der] (wg7) to[out=-5,in=145] (wgfd);
\draw[inh] (iir3) .. controls (1320,6000) and (1550,6512) .. (ia3);
\draw[inh] (ia3) -- (skt3);
\draw[inh] (wgfd) -- (oefd2);
\draw[inh] (wgfd) -- (fkfd2);
\draw[inh] (wgfd) -- (ohgfd);
\draw[inh] (wgfd) to[out=-25,in=170] (osfd);
\draw[inh] (oefd2) -- (enfriday);
\draw[bor] (enfriday) -- (maori);
\draw[inh] (fkfd2) -- (duvrijdag);
\draw[inh] (ohgfd) -- (defreitag);
\draw[inh] (osfd) -- (lgfd);
\draw[bor] (osfd) -- (onfd);
\draw[inh] (onfd) -- (dafd);
\draw[bor] (onfd) -- (fin);
\end{tikzpicture}
\end{document}
